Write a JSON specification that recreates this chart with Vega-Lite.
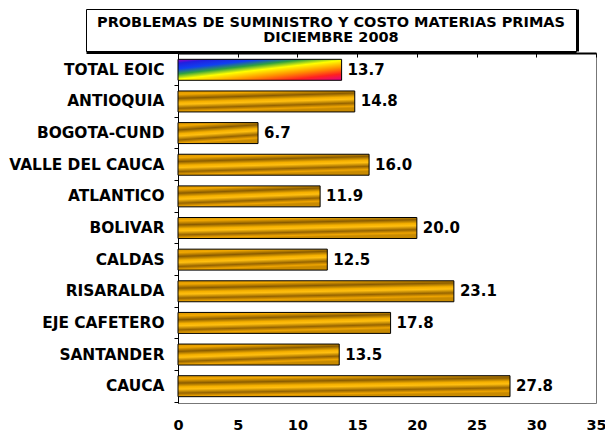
{
  "$schema": "https://vega.github.io/schema/vega-lite/v6.json",
  "background": "white",
  "padding": {"left": 8, "top": 8, "right": 0, "bottom": 0},
  "spacing": 2,
  "bounds": "flush",
  "config": {"font": "DejaVu Sans"},
  "vconcat": [
    {
      "width": 490,
      "height": 42,
      "data": {"values": [{"titulo": "PROBLEMAS DE SUMINISTRO Y COSTO MATERIAS PRIMAS\nDICIEMBRE 2008"}]},
      "view": {"stroke": "black", "strokeWidth": 1},
      "layer": [
        {
          "mark": {"type": "text", "font": "DejaVu Sans", "fontWeight": "bold", "fontSize": 14.5, "lineHeight": 15, "lineBreak": "\n", "align": "center", "baseline": "middle", "dy": -7.5, "color": "black"},
          "encoding": {
            "text": {"field": "titulo", "type": "nominal"},
            "x": {"datum": 0.5, "type": "quantitative", "scale": {"domain": [0, 1]},
              "axis": {"orient": "bottom", "labels": false, "ticks": false, "grid": false, "domainColor": "black", "domainWidth": 3, "offset": 1, "title": null}},
            "y": {"datum": 0.5, "type": "quantitative", "scale": {"domain": [0, 1]}, "axis": null}
          }
        },
        {
          "mark": {"type": "text", "opacity": 0},
          "encoding": {
            "text": {"field": "titulo", "type": "nominal"},
            "y": {"datum": 0.5, "type": "quantitative",
              "axis": {"orient": "right", "labels": false, "ticks": false, "grid": false, "domainColor": "black", "domainWidth": 3, "offset": 1, "title": null}}
          }
        }
      ],
      "resolve": {"axis": {"y": "independent"}}
    },
    {
      "bounds": "flush",
      "spacing": 0,
      "hconcat": [
        {
          "width": 92,
          "height": 10,
          "data": {"values": [{"vacio": ""}]},
          "view": {"stroke": null},
          "mark": {"type": "text", "opacity": 0},
          "encoding": {"text": {"field": "vacio", "type": "nominal"}}
        },
        {
          "width": 418,
          "height": 350,
          "data": {"values": [
            {"region": "TOTAL EOIC", "valor": 13.7},
            {"region": "ANTIOQUIA", "valor": 14.8},
            {"region": "BOGOTA-CUND", "valor": 6.7},
            {"region": "VALLE DEL CAUCA", "valor": 16.0},
            {"region": "ATLANTICO", "valor": 11.9},
            {"region": "BOLIVAR", "valor": 20.0},
            {"region": "CALDAS", "valor": 12.5},
            {"region": "RISARALDA", "valor": 23.1},
            {"region": "EJE CAFETERO", "valor": 17.8},
            {"region": "SANTANDER", "valor": 13.5},
            {"region": "CAUCA", "valor": 27.8}
          ]},
          "view": {"stroke": "#777", "strokeWidth": 1},
          "encoding": {
            "y": {"field": "region", "type": "nominal",
              "sort": ["TOTAL EOIC", "ANTIOQUIA", "BOGOTA-CUND", "VALLE DEL CAUCA", "ATLANTICO", "BOLIVAR", "CALDAS", "RISARALDA", "EJE CAFETERO", "SANTANDER", "CAUCA"],
              "scale": {"paddingInner": 0.337, "paddingOuter": 0.2},
              "axis": {"title": null, "labelFont": "DejaVu Sans", "labelFontWeight": "bold", "labelFontSize": 15.4, "labelColor": "black", "labelPadding": 10, "tickSize": 4, "tickColor": "black", "domainColor": "black", "bandPosition": 1.254, "labelLimit": 300}},
            "x": {"field": "valor", "type": "quantitative", "scale": {"domain": [0, 35], "nice": false}, "axis": null}
          },
          "layer": [
            {
              "transform": [{"filter": "datum.region !== 'TOTAL EOIC'"}],
              "mark": {"type": "bar", "stroke": "black", "strokeWidth": 1,
                "fill": {"gradient": "linear", "x1": 0, "y1": 0, "x2": 0.25, "y2": 1,
                  "stops": [
                    {"offset": 0, "color": "#d89400"},
                    {"offset": 0.15, "color": "#f2a800"},
                    {"offset": 0.33, "color": "#8a5c00"},
                    {"offset": 0.5, "color": "#f5b000"},
                    {"offset": 0.6, "color": "#ffbf10"},
                    {"offset": 0.78, "color": "#966400"},
                    {"offset": 0.92, "color": "#eea400"},
                    {"offset": 1, "color": "#c88a00"}
                  ]}},
              "encoding": {
                "x": {"field": "valor", "type": "quantitative",
                  "axis": {"orient": "bottom", "title": null, "values": [0, 5, 10, 15, 20, 25, 30, 35], "ticks": false, "domain": false, "grid": false, "labelFlush": false, "labelFont": "DejaVu Sans", "labelFontWeight": "bold", "labelFontSize": 14.5, "labelColor": "black", "labelPadding": 15}}
              }
            },
            {
              "transform": [{"filter": "datum.region === 'TOTAL EOIC'"}],
              "mark": {"type": "bar", "stroke": "black", "strokeWidth": 1,
                "fill": {"gradient": "linear", "x1": 0, "y1": 0, "x2": 0.945, "y2": 1.05,
                  "stops": [
                    {"offset": 0, "color": "#a000c0"},
                    {"offset": 0.1, "color": "#2020e0"},
                    {"offset": 0.24, "color": "#1040f0"},
                    {"offset": 0.37, "color": "#30a040"},
                    {"offset": 0.5, "color": "#ffff00"},
                    {"offset": 0.68, "color": "#ff9000"},
                    {"offset": 0.84, "color": "#ff2020"},
                    {"offset": 1, "color": "#e0008a"}
                  ]}},
              "encoding": {
                "x": {"field": "valor", "type": "quantitative",
                  "axis": {"orient": "top", "title": null, "values": [0, 5, 10, 15, 20, 25, 30, 35], "labels": false, "grid": false, "tickSize": -4, "tickColor": "black", "domainColor": "black", "domainWidth": 2}}
              }
            },
            {
              "mark": {"type": "text", "align": "left", "baseline": "middle", "dx": 6, "font": "DejaVu Sans", "fontWeight": "bold", "fontSize": 15, "color": "black"},
              "encoding": {
                "text": {"field": "valor", "type": "quantitative", "format": ".1f"}
              }
            }
          ],
          "resolve": {"axis": {"x": "independent"}}
        }
      ]
    }
  ]
}
